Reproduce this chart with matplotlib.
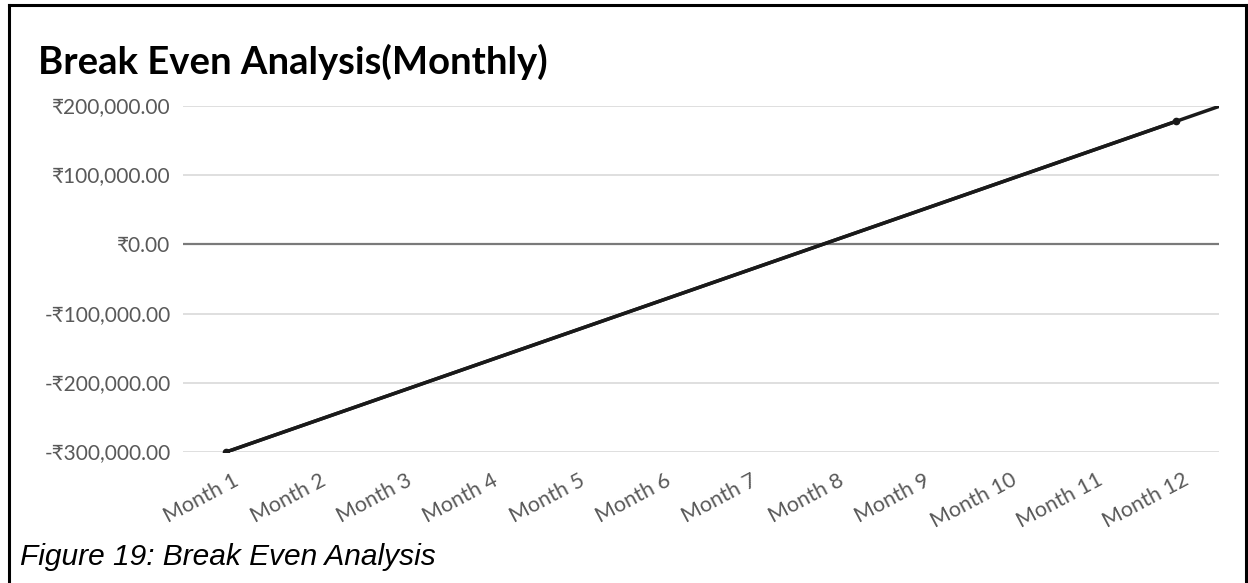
import numpy as np
import matplotlib.pyplot as plt
from matplotlib.lines import Line2D
from matplotlib.ticker import FuncFormatter
from matplotlib.transforms import ScaledTranslation

months = ['Month %d' % i for i in range(1, 13)]
# cumulative position at the two plotted months
point_months = [1, 12]
point_values = [-300000, 177700]
y_ticks = [-300000, -200000, -100000, 0, 100000, 200000]

W, H = 1248, 583
fig = plt.figure(figsize=(W / 100, H / 100), dpi=100)
ax = fig.add_axes([183 / W, 1 - 452 / H, (1219 - 183) / W, (452 - 106) / H])

label_font = ['Lato', 'DejaVu Sans']
grey = '#595959'

# light grid plus a darker zero line
for v in y_ticks:
    if v == 0:
        ax.axhline(v, color='#7a7a7a', lw=1.6, zorder=1)
    else:
        ax.axhline(v, color='#d9d9d9', lw=1.2, zorder=1)

xs = np.array(point_months) - 1
ax.plot(xs, point_values, color='#1a1a1a', lw=2.5, zorder=3,
        marker='o', ms=4.5, solid_capstyle='round')

# linear trend carried half a month forward
coef = np.polyfit(xs, point_values, 1)
tx = np.array([xs[0], 11.5])
ax.plot(tx, np.polyval(coef, tx), color='#1a1a1a', lw=2.5, zorder=2,
        solid_capstyle='round')

ax.set_xlim(-0.5, 11.5)
ax.set_ylim(y_ticks[0], y_ticks[-1])
ax.set_yticks(y_ticks)
ax.yaxis.set_major_formatter(FuncFormatter(
    lambda v, p: ('-' if v < 0 else '') + '\u20b9{:,.2f}'.format(abs(v))))
ax.set_xticks(range(len(months)))
ax.set_xticklabels(months, rotation=28, ha='right', va='top',
                   rotation_mode='anchor')
for s in ax.spines.values():
    s.set_visible(False)
ax.tick_params(axis='x', length=0, colors=grey, labelsize=15.5, pad=13)
ax.tick_params(axis='y', length=0, colors=grey, labelsize=15, pad=9)
for lab in ax.get_xticklabels() + ax.get_yticklabels():
    lab.set_family(label_font)
    lab.set_color(grey)
shift = ScaledTranslation(7 / 100, 0, fig.dpi_scale_trans)
for lab in ax.get_xticklabels():
    lab.set_transform(lab.get_transform() + shift)

fig.text(38 / W, 1 - 62 / H, 'Break Even Analysis(Monthly)', fontsize=27.5,
         fontweight='bold', family=['Lato', 'DejaVu Sans'], color='black',
         va='center', ha='left')
fig.text(20 / W, 1 - 557 / H, 'Figure 19: Break Even Analysis', fontsize=21.5,
         style='italic', family=['Liberation Sans', 'DejaVu Sans'],
         color='black', va='center', ha='left')

# border around the chart
bk = dict(color='black', lw=2.2, transform=fig.transFigure)
fig.add_artist(Line2D([9 / W, 9 / W], [0, 1 - 5 / H], **bk))
fig.add_artist(Line2D([9 / W, 1246 / W], [1 - 5 / H, 1 - 5 / H], **bk))
fig.add_artist(Line2D([1246 / W, 1246 / W], [0, 1 - 5 / H], **bk))

fig.savefig('out.png', dpi=100, facecolor='white')
